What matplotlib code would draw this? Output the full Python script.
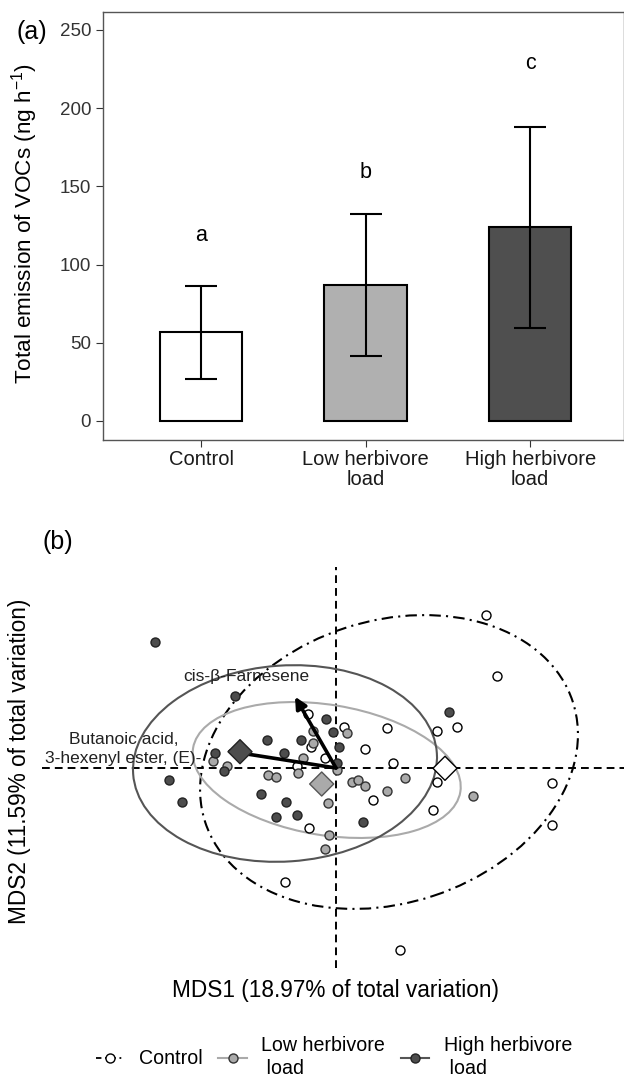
import numpy as np
import matplotlib
matplotlib.use("Agg")
import matplotlib.pyplot as plt
from matplotlib.patches import Ellipse
from matplotlib.lines import Line2D

plt.rcParams['font.family'] = ['Liberation Sans', 'DejaVu Sans']
plt.rcParams['mathtext.fontset'] = 'custom'
plt.rcParams['mathtext.rm'] = 'Liberation Sans'
plt.rcParams['mathtext.it'] = 'Liberation Sans:italic'

# ---------------- data: panel (a) ----------------
groups = ['Control', 'Low herbivore\nload', 'High herbivore\nload']
emission_mean = [56.7, 86.9, 123.7]
emission_sd = [29.6, 45.3, 64.4]
letters = ['a', 'b', 'c']
letter_y = [118.5, 158.8, 228.7]
bar_colors = ['white', '#b0b0b0', '#4f4f4f']

# ---------------- data: panel (b) NMDS ----------------
ctrl_x = [1.497, 1.607, -0.277, 0.083, 0.513, 1.007, 1.213, 0.29, -0.25, -0.11,
          0.573, -0.39, 1.007, 2.157, 0.373, 0.973, 2.157, -0.27, -0.51, 0.64]
ctrl_y = [1.53, 0.92, 0.537, 0.413, 0.397, 0.373, 0.413, 0.19, 0.21, 0.097,
          0.047, 0.025, -0.137, -0.153, -0.32, -0.42, -0.57, -0.603, -1.137, -1.82]

low_x = [0.107, -0.233, -0.233, -0.327, -1.233, -1.093, -0.683, -0.603, -0.383, 0.013,
         0.163, 0.22, 0.29, 0.513, 0.69, 1.367, -0.083, -0.07, -0.113]
low_y = [0.347, 0.373, 0.247, 0.097, 0.073, 0.02, -0.07, -0.093, -0.053, -0.02,
         -0.143, -0.12, -0.177, -0.227, -0.097, -0.28, -0.353, -0.67, -0.813]

high_x = [-1.81, -1.01, -0.103, -0.027, -0.693, -0.35, 0.033, -1.21, -0.517, 0.007,
          -1.117, -1.67, 1.13, -1.537, -0.747, -0.503, -0.597, -0.387, 0.27]
high_y = [1.257, 0.723, 0.487, 0.363, 0.277, 0.28, 0.213, 0.153, 0.147, 0.047,
          -0.03, -0.12, 0.557, -0.343, -0.26, -0.337, -0.49, -0.473, -0.537]

# group centroids
cent_x = [1.09, -0.143, -0.96]
cent_y = [-0.003, -0.16, 0.163]

# ellipses: centre x, centre y, semi-major, semi-minor, angle (deg)
ell_ctrl = [0.53, 0.06, 1.934, 1.41, 18.2]
ell_low = [-0.093, -0.02, 1.354, 0.652, -9.3]
ell_high = [-0.51, 0.045, 1.522, 0.98, 3.9]

# VOC vectors
vec_names = ['cis-β-Farnesene', 'Butanoic acid,\n3-hexenyl ester, (E)-']
vec_x = [-0.41, -1.10]
vec_y = [0.713, 0.173]
vec_lab_x = [-0.90, -2.125]
vec_lab_y = [0.913, 0.19]

W, H = 624, 1077
fig = plt.figure(figsize=(W / 100, H / 100), dpi=100)

# ============ (a) bar chart ============
ax1 = fig.add_axes([103 / W, 1 - 440 / H, 521 / W, 428 / H])
xpos = np.arange(1, 4)
ax1.bar(xpos, emission_mean, width=0.5, color=bar_colors, edgecolor='black', linewidth=1.5, zorder=2)
ax1.errorbar(xpos, emission_mean, yerr=emission_sd, fmt='none', ecolor='black',
             elinewidth=1.5, capsize=11.5, capthick=1.5, zorder=3)
for xi, yl, lt in zip(xpos, letter_y, letters):
    ax1.text(xi, yl, lt, ha='center', va='center', fontsize=15.5)
ax1.set_xlim(0.404, 3.57)
ax1.set_ylim(-12.2, 261.5)
ax1.set_yticks([0, 50, 100, 150, 200, 250])
ax1.set_xticks(xpos)
ax1.set_xticklabels(groups, fontsize=14.5, color='#1a1a1a', linespacing=1.05)
ax1.tick_params(axis='y', labelsize=13.5, colors='#333333', length=5, pad=3.5)
ax1.tick_params(axis='x', length=5, pad=2.5, colors='#333333')
for lbl in ax1.get_xticklabels():
    lbl.set_color('#1a1a1a')
for sp in ax1.spines.values():
    sp.set_color('#555555')
    sp.set_linewidth(1.0)
fig.text(25 / W, 1 - 224 / H, 'Total emission of VOCs (ng h$^{-1}$)', rotation=90,
         ha='center', va='center', fontsize=16.2)
fig.text(32 / W, 1 - 32 / H, '(a)', ha='center', va='center', fontsize=18)

# ============ (b) NMDS ============
ax2 = fig.add_axes([42 / W, 1 - 968 / H, 582 / W, 401 / H])
ax2.set_xlim(-2.94, 2.88)
ax2.set_ylim(-2.0, 2.01)
ax2.axis('off')
ax2.axhline(0, color='black', lw=1.4, ls=(0, (4, 2.6)), zorder=1)
ax2.axvline(0, color='black', lw=1.4, ls=(0, (4, 2.6)), zorder=1)

for e, col, ls in [(ell_ctrl, 'black', (0, (5.5, 2.5, 1, 2.5))),
                   (ell_low, '#aaaaaa', '-'),
                   (ell_high, '#555555', '-')]:
    ax2.add_patch(Ellipse((e[0], e[1]), 2 * e[2], 2 * e[3], angle=e[4], fill=False,
                          edgecolor=col, lw=1.5, ls=ls, zorder=2))

ax2.scatter(ctrl_x, ctrl_y, s=42, c='white', edgecolors='black', linewidths=1.0, zorder=3)
ax2.scatter(low_x, low_y, s=42, c='#aaaaaa', edgecolors='#333333', linewidths=1.0, zorder=3)
ax2.scatter(high_x, high_y, s=42, c='#4d4d4d', edgecolors='#222222', linewidths=1.0, zorder=3)

for vx, vy in zip(vec_x, vec_y):
    ax2.annotate('', xy=(vx, vy), xytext=(0, 0),
                 arrowprops=dict(arrowstyle='-|>', color='black', lw=2.6,
                                 mutation_scale=17, shrinkA=0, shrinkB=0), zorder=4)
for lx, ly, nm in zip(vec_lab_x, vec_lab_y, vec_names):
    ax2.text(lx, ly, nm, ha='center', va='center', fontsize=12.5, color='#222222',
             linespacing=1.4, zorder=5)

ax2.scatter(cent_x, cent_y, s=150, marker='D', c=['white', '#aaaaaa', '#4d4d4d'],
            edgecolors=['black', '#555555', '#222222'], linewidths=1.0, zorder=6)

fig.text(335 / W, 1 - 990 / H, 'MDS1 (18.97% of total variation)', ha='center',
         va='center', fontsize=16.3)
fig.text(20 / W, 1 - 761 / H, 'MDS2 (11.59% of total variation)', rotation=90,
         ha='center', va='center', fontsize=16.3)
fig.text(58 / W, 1 - 542 / H, '(b)', ha='center', va='center', fontsize=18)

handles = [
    Line2D([], [], color='black', lw=1.3, ls=(0, (3, 2, 1, 2)), marker='o', ms=6.5,
           mfc='white', mec='black'),
    Line2D([], [], color='#aaaaaa', lw=1.5, marker='o', ms=6.5, mfc='#aaaaaa', mec='#333333'),
    Line2D([], [], color='#555555', lw=1.5, marker='o', ms=6.5, mfc='#4d4d4d', mec='#222222'),
]
labels = ['Control', 'Low herbivore\n load', 'High herbivore\n load']
leg = fig.legend(handles, labels, loc='center', bbox_to_anchor=(334 / W, 1 - 1057 / H), ncol=3,
                 frameon=False, fontsize=14.1, handlelength=1.45, handletextpad=0.75,
                 columnspacing=0.8, borderaxespad=0)
for t in leg.get_texts():
    t.set_linespacing(1.3)

fig.savefig('out.png', dpi=100)
